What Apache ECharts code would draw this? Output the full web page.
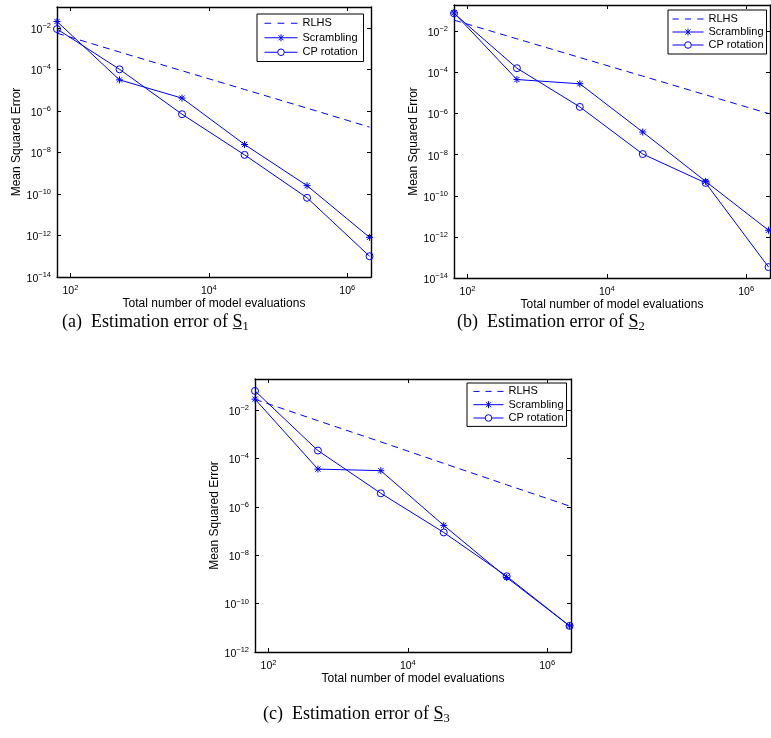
<!DOCTYPE html>
<html>
<head>
<meta charset="utf-8">
<script src="https://cdn.jsdelivr.net/npm/echarts@6/dist/echarts.min.js"></script>
<style>html,body{margin:0;padding:0;background:#fff}#c{width:771px;height:738px}</style>
</head>
<body>
<div id="c"></div>
<script>
// ---- data ----
const evals = [64, 512, 4096, 32768, 262144, 2097152];
const seriesNames = ['RLHS', 'Scrambling', 'CP rotation'];
const xTickValues = [1e2, 1e4, 1e6];
const yTickValuesAB = [1e-14, 1e-12, 1e-10, 1e-8, 1e-6, 1e-4, 1e-2];
const yTickValuesC = [1e-12, 1e-10, 1e-8, 1e-6, 1e-4, 1e-2];

const rlhsA = [5.5e-3, 6.8e-4, 8.5e-5, 1.07e-5, 1.35e-6, 1.65e-7];
const scrA  = [2.0e-2, 3.1e-5, 4.1e-6, 2.4e-8, 2.5e-10, 8.1e-13];
const cpA   = [8.7e-3, 1.0e-4, 6.9e-7, 7.6e-9, 6.5e-11, 1.0e-13];

const rlhsB = [3.5e-2, 4.3e-3, 5.3e-4, 6.6e-5, 8.1e-6, 1.0e-6];
const scrB  = [7.8e-2, 4.5e-5, 2.8e-5, 1.26e-7, 5.0e-10, 2.1e-12];
const cpB   = [7.5e-2, 1.6e-4, 2.1e-6, 1.07e-8, 4.2e-10, 3.4e-14];

const rlhsC = [2.75e-2, 3.6e-3, 4.8e-4, 6.2e-5, 8.1e-6, 1.07e-6];
const scrC  = [2.8e-2, 3.6e-5, 3.1e-5, 1.7e-7, 1.2e-9, 1.2e-11];
const cpC   = [6.1e-2, 2.1e-4, 3.6e-6, 8.7e-8, 1.35e-9, 1.2e-11];

const xLabel = 'Total number of model evaluations';
const yLabel = 'Mean Squared Error';
const captions = ['(a)  Estimation error of ', '(b)  Estimation error of ', '(c)  Estimation error of '];
const captionSubs = ['1', '2', '3'];

// ---- layout / style ----
const SANS = 'Liberation Sans, Arial, Helvetica, sans-serif';
const SERIF = 'Liberation Serif, Times New Roman, serif';
const BLUE = '#0000ff';
const panels = [
  {grid: {left: 57, top: 7, width: 314, height: 270}, xMin: 64, xMax: 2.2e6, yMin: 1e-14, yMax: 1e-1, yTicks: yTickValuesAB, yNameGap: 33,
   data: [rlhsA, scrA, cpA], legend: {left: 257, top: 14, padding: [3, 6, 3, 7], rowH: 12.5, gap: 2, iw: 33}},
  {grid: {left: 454, top: 5, width: 316, height: 273}, xMin: 64, xMax: 2.2e6, yMin: 1e-14, yMax: 0.19, yTicks: yTickValuesAB, yNameGap: 31,
   data: [rlhsB, scrB, cpB], legend: {left: 668, top: 10, padding: [3.5, 3, 3.5, 4], rowH: 11, gap: 2, iw: 31}},
  {grid: {left: 255, top: 379, width: 316, height: 273}, xMin: 64, xMax: 2.2e6, yMin: 1e-12, yMax: 0.19, yTicks: yTickValuesC, yNameGap: 32,
   data: [rlhsC, scrC, cpC], legend: {left: 467, top: 383, padding: [2.75, 3, 2.75, 6], rowH: 11.3, gap: 2, iw: 30}}
];
const captionPos = [{left: 62, top: 311}, {left: 457, top: 311}, {left: 263, top: 703}];

function powLabel(v) {
  const e = Math.round(Math.log10(v));
  return '{b|10}{s|' + (e < 0 ? '\u2212' : '') + Math.abs(e) + '}';
}
const labelRich = {
  b: {fontSize: 10.5, fontFamily: SANS, color: '#000', padding: [4, 0, 0, 0]},
  s: {fontSize: 7.5, fontFamily: SANS, color: '#000', padding: [0, 0, 4, 0]}
};
const ASTER = 'path://M0,-10L0,10M-10,0L10,0M-7.5,-7.5L7.5,7.5M-7.5,7.5L7.5,-7.5';

// legend sample icons (line + marker), bbox w x 8
function iconDash(w) {
  const d = w / 5;
  return 'path://M0,-4M' + w + ',4M0,0L' + d + ',0M' + (2 * d) + ',0L' + (3 * d) + ',0M' + (4 * d) + ',0L' + w + ',0';
}
function iconStar(w) {
  const c = w / 2;
  return 'path://M0,-4M' + w + ',4M0,0L' + w + ',0M' + c + ',-3.5L' + c + ',3.5M' + (c - 2.5) + ',-2.5L' + (c + 2.5) + ',2.5M' + (c - 2.5) + ',2.5L' + (c + 2.5) + ',-2.5';
}
function iconCircle(w) {
  const c = w / 2, r = 3.3;
  return 'path://M0,-4M' + w + ',4M0,0L' + (c - r) + ',0M' + (c + r) + ',0L' + w + ',0M' + (c - r) + ',0A' + r + ',' + r + ' 0 1 0 ' + (c + r) + ',0A' + r + ',' + r + ' 0 1 0 ' + (c - r) + ',0';
}

const grid = [], xAxis = [], yAxis = [], series = [], legend = [], title = [];
panels.forEach((p, i) => {
  grid.push(Object.assign({containLabel: false}, p.grid));
  const axLine = {show: true, onZero: false, lineStyle: {color: '#000', width: 1.4}};
  xAxis.push({type: 'log', gridIndex: i, position: 'bottom', min: p.xMin, max: p.xMax,
    axisLine: axLine, splitLine: {show: false}, minorTick: {show: false},
    axisTick: {inside: true, length: 4, customValues: xTickValues, lineStyle: {color: '#000'}},
    axisLabel: {customValues: xTickValues, formatter: powLabel, rich: labelRich, margin: 5},
    name: xLabel, nameLocation: 'middle', nameGap: 19,
    nameTextStyle: {fontFamily: SANS, fontSize: 12, color: '#000'}});
  yAxis.push({type: 'log', gridIndex: i, position: 'left', min: p.yMin, max: p.yMax,
    axisLine: axLine, splitLine: {show: false}, minorTick: {show: false},
    axisTick: {inside: true, length: 4, customValues: p.yTicks, lineStyle: {color: '#000'}},
    axisLabel: {customValues: p.yTicks, formatter: powLabel, rich: labelRich, margin: 6},
    name: yLabel, nameLocation: 'middle', nameGap: p.yNameGap, nameRotate: 90,
    nameTextStyle: {fontFamily: SANS, fontSize: 12, color: '#000'}});
  const lg = p.legend;
  const icons = [iconDash(lg.iw), iconStar(lg.iw), iconCircle(lg.iw)];
  legend.push({left: lg.left, top: lg.top, orient: 'vertical',
    data: seriesNames.map((n, k) => ({name: n, icon: icons[k],
      itemStyle: {color: 'rgba(0,0,0,0)', borderColor: BLUE, borderWidth: 1}})),
    itemWidth: lg.iw, itemHeight: 8, itemGap: lg.gap, padding: lg.padding,
    borderColor: '#000', borderWidth: 1, backgroundColor: '#fff', selectedMode: false,
    textStyle: {fontFamily: SANS, fontSize: 11, color: '#000', lineHeight: lg.rowH}});
  const [rl, sc, cp] = p.data;
  series.push({name: 'RLHS', type: 'line', xAxisIndex: i, yAxisIndex: i, symbol: 'none',
    data: evals.map((x, k) => [x, rl[k]]), lineStyle: {color: BLUE, width: 1, type: [7, 5]},
    itemStyle: {color: BLUE}, silent: true, animation: false});
  series.push({name: 'Scrambling', type: 'line', xAxisIndex: i, yAxisIndex: i, symbol: ASTER, symbolSize: 7,
    data: evals.map((x, k) => [x, sc[k]]), lineStyle: {color: BLUE, width: 1},
    itemStyle: {color: BLUE, borderColor: BLUE, borderWidth: 1}, silent: true, animation: false});
  series.push({name: 'CP rotation', type: 'line', xAxisIndex: i, yAxisIndex: i, symbol: 'circle', symbolSize: 7,
    data: evals.map((x, k) => [x, cp[k]]), lineStyle: {color: BLUE, width: 1},
    itemStyle: {color: 'rgba(0,0,0,0)', borderColor: BLUE, borderWidth: 1}, silent: true, animation: false});
  title.push({text: captions[i] + '{u|S\u0332}{sub|' + captionSubs[i] + '}', left: captionPos[i].left, top: captionPos[i].top, padding: 0,
    textStyle: {fontFamily: SERIF, fontSize: 18, fontWeight: 'normal', color: '#000',
      rich: {u: {fontFamily: SERIF, fontSize: 18, color: '#000'}, sub: {fontFamily: SERIF, fontSize: 12.5, color: '#000', padding: [9, 0, 0, 0]}}}});
});
// secondary (top / right) axes for the box ticks
panels.forEach((p, i) => {
  const axLine = {show: true, onZero: false, lineStyle: {color: '#000', width: 1.4}};
  xAxis.push({type: 'log', gridIndex: i, position: 'top', min: p.xMin, max: p.xMax, axisLine: axLine,
    splitLine: {show: false}, minorTick: {show: false},
    axisTick: {inside: true, length: 4, customValues: xTickValues, lineStyle: {color: '#000'}},
    axisLabel: {show: false}});
  yAxis.push({type: 'log', gridIndex: i, position: 'right', min: p.yMin, max: p.yMax, axisLine: axLine,
    splitLine: {show: false}, minorTick: {show: false},
    axisTick: {inside: true, length: 4, customValues: p.yTicks, lineStyle: {color: '#000'}},
    axisLabel: {show: false}});
});

const chart = echarts.init(document.getElementById('c'), null, {renderer: 'canvas'});
chart.setOption({animation: false, backgroundColor: '#fff', title, grid, xAxis, yAxis, legend, series});
</script>
</body>
</html>
